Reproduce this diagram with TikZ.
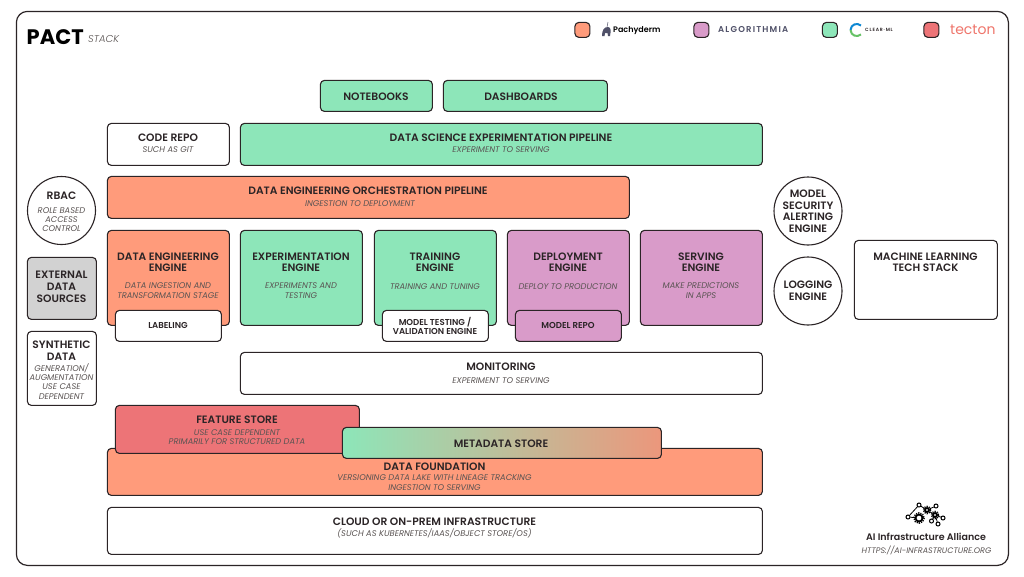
\documentclass[tikz,border=0pt]{standalone}
\usepackage{fontspec}
\setmainfont{Poppins}[BoldFont={Poppins SemiBold},ItalicFont={Poppins Light Italic},BoldItalicFont={Poppins SemiBold Italic}]
\newfontfamily\heavyfont{Poppins Bold}
\newfontfamily\notefont{Poppins Italic}
\usepackage{tikz}
\definecolor{inkdark}{HTML}{2B2426}
\definecolor{notegrey}{HTML}{5A5453}
\definecolor{algogrey}{HTML}{4F5068}
\definecolor{pachyorange}{HTML}{FF9B7B}
\definecolor{algopurple}{HTML}{D99BC9}
\definecolor{clearmint}{HTML}{8DE6B9}
\definecolor{tectonred}{HTML}{ED7477}
\definecolor{sourcegrey}{HTML}{D2D2D2}
\tikzstyle{rect} = [rectangle, draw=inkdark, line width=1.1pt, rounded corners=4pt, anchor=north west, inner sep=0pt, outer sep=0pt, xshift=0.4pt, yshift=-0.4pt]
\tikzstyle{disc} = [circle, draw=inkdark, line width=1.1pt, fill=white, minimum size=68pt, inner sep=0pt]
\tikzstyle{head} = [align=center, inner sep=0pt, text=inkdark, yshift=-0.7pt, font=\fontsize{10.7}{11.8}\selectfont\bfseries]
\tikzstyle{note} = [align=center, inner sep=0pt, text=notegrey, yshift=-0.7pt, font=\fontsize{8.3}{9.3}\notefont]
\tikzstyle{tag} = [align=center, inner sep=0pt, text=inkdark, yshift=-0.3pt, font=\fontsize{8.6}{9.2}\selectfont\bfseries]
\tikzstyle{swatch} = [rect, minimum width=15pt, minimum height=15pt]
\tikzstyle{dot} = [circle, draw=black, line width=1pt, fill=white, minimum size=4pt, inner sep=0pt]
\tikzstyle{cog} = [circle, draw=black, line width=1.8pt, fill=white, inner sep=0pt]
\tikzstyle{teeth} = [black, line width=1.4pt, dash pattern=on 1.2pt off 1.1pt]

\begin{document}
\begin{tikzpicture}[x=1pt,y=-1pt]
            \useasboundingbox (0,0) rectangle (1024,576);
            \fill [white] (0,0) rectangle (1024,576);
            \node (frame) [rect, line width=1.2pt, rounded corners=11pt, minimum width=992pt, minimum height=554pt] at (16,11) {};

            % title and legend
            \node (pact) [anchor=base west, inner sep=0pt, text=black] at (26.5,44) {\fontsize{21}{21}\heavyfont PACT};
            \node (stack) [anchor=base west, inner sep=0pt, text=notegrey] at (88,42) {\fontsize{10}{10}\selectfont\itshape STACK};

            \node (orangeKey) [swatch, fill=pachyorange] at (574.5,22) {};
            \node (purpleKey) [swatch, fill=algopurple] at (693.5,22) {};
            \node (mintKey) [swatch, fill=clearmint] at (822,22) {};
            \node (redKey) [swatch, fill=tectonred] at (923.5,22) {};

            \fill [algogrey] (602,36) .. controls (602,30) and (604,27) .. (608,27) .. controls (611,27) and (611,31) .. (610,36) -- (608,36) -- (607.5,33) -- (605,33) -- (604.5,36) -- cycle;
            \draw [algogrey, line width=0.5pt] (607,27) -- (608,22);
            \node (pachyderm) [inner sep=0pt, anchor=west, text=black] at (613,31) {\fontsize{8}{8}\selectfont\bfseries Pachyderm};
            \node (algorithmia) [inner sep=0pt, anchor=west, text=algogrey] at (718,30) {\fontsize{8.5}{8.5}\selectfont\bfseries\addfontfeature{LetterSpace=14}ALGORITHMIA};
            \draw [cyan!70!blue, line width=2pt] (861,25.5) .. controls (857,22.5) and (851,24) .. (850.5,30);
            \draw [green!60!black!60!white, line width=2pt] (850.5,30) .. controls (851,36) and (857,37.5) .. (861,34.5);
            \node (clearml) [inner sep=0pt, anchor=west, text=inkdark] at (865,30) {\fontsize{4.6}{5}\selectfont\bfseries\addfontfeature{LetterSpace=18}CLEAR·ML};
            \node (tecton) [inner sep=0pt, anchor=west, text=tectonred!90!orange] at (950,29.5) {\fontsize{14}{14}\selectfont tecton};

            % top rows
            \node (notebooks) [rect, fill=clearmint, minimum width=112pt, minimum height=31pt] at (320,80) {};
            \node (notebooksHead) [head] at (376,96) {NOTEBOOKS};
            \node (dashboards) [rect, fill=clearmint, minimum width=164pt, minimum height=31pt] at (443,80) {};
            \node (dashboardsHead) [head] at (521,96) {DASHBOARDS};
            \node (codeRepo) [rect, minimum width=122pt, minimum height=42pt] at (107,123) {};
            \node (codeRepoHead) [head] at (168,137) {CODE REPO};
            \node (codeRepoNote) [note] at (168,149) {SUCH AS GIT};
            \node (dsPipeline) [rect, fill=clearmint, minimum width=522pt, minimum height=42pt] at (240,123) {};
            \node (dsPipelineHead) [head] at (501,137) {DATA SCIENCE EXPERIMENTATION PIPELINE};
            \node (dsPipelineNote) [note] at (501,149) {EXPERIMENT TO SERVING};
            \node (dePipeline) [rect, fill=pachyorange, minimum width=522pt, minimum height=42pt] at (107,176) {};
            \node (dePipelineHead) [head] at (368,190) {DATA ENGINEERING ORCHESTRATION PIPELINE};
            \node (dePipelineNote) [note] at (360,203) {INGESTION TO DEPLOYMENT};

            % engines
            \foreach \name/\x/\tone in {dataEngine/107/pachyorange, expEngine/240/clearmint, trainEngine/374/clearmint, deployEngine/507/algopurple, serveEngine/640/algopurple}
            {
                \node (\name) [rect, fill=\tone, minimum width=122pt, minimum height=95pt] at (\x,230) {};
            }
            \node (dataHead) [head] at (168,261.5) {DATA ENGINEERING\\ENGINE};
            \node (dataNote) [note] at (168,290) {DATA INGESTION AND\\TRANSFORMATION STAGE};
            \node (expHead) [head] at (301,261.5) {EXPERIMENTATION\\ENGINE};
            \node (expNote) [note] at (301,290) {EXPERIMENTS AND\\TESTING};
            \node (trainHead) [head] at (435,261.5) {TRAINING\\ENGINE};
            \node (trainNote) [note] at (435,285.5) {TRAINING AND TUNING};
            \node (deployHead) [head] at (568,261.5) {DEPLOYMENT\\ENGINE};
            \node (deployNote) [note] at (568,285.5) {DEPLOY TO PRODUCTION};
            \node (serveHead) [head] at (701,261.5) {SERVING\\ENGINE};
            \node (serveNote) [note] at (701,290) {MAKE PREDICTIONS\\IN APPS};

            \node (labeling) [rect, fill=white, minimum width=106pt, minimum height=31pt] at (115,310) {};
            \node (labelingTag) [tag] at (168,325.5) {LABELING};
            \node (modelTesting) [rect, fill=white, minimum width=106pt, minimum height=31pt] at (382,310) {};
            \node (modelTestingTag) [tag] at (435,325.5) {MODEL TESTING /\\VALIDATION ENGINE};
            \node (modelRepo) [rect, fill=algopurple, minimum width=106pt, minimum height=31pt] at (515,310) {};
            \node (modelRepoTag) [tag] at (568,325.5) {MODEL REPO};

            \node (monitoring) [rect, minimum width=522pt, minimum height=42pt] at (240,352) {};
            \node (monitoringHead) [head] at (501,366) {MONITORING};
            \node (monitoringNote) [note] at (501,380) {EXPERIMENT TO SERVING};

            % stores and foundation
            \node (foundation) [rect, fill=pachyorange, minimum width=655pt, minimum height=47pt] at (107,448) {};
            \node (foundationHead) [head] at (434.5,466) {DATA FOUNDATION};
            \node (foundationNote) [note] at (434.5,482) {VERSIONING DATA LAKE WITH LINEAGE TRACKING\\INGESTION TO SERVING};
            \node (featureStore) [rect, fill=tectonred, minimum width=244pt, minimum height=48pt] at (115,405) {};
            \node (featureHead) [head] at (237,419) {FEATURE STORE};
            \node (featureNote) [note] at (237,436.5) {USE CASE DEPENDENT\\PRIMARILY FOR STRUCTURED DATA};
            \node (metadata) [rect, left color=clearmint, right color=pachyorange!85!gray, minimum width=319pt, minimum height=31pt] at (342,427) {};
            \node (metadataHead) [head] at (501,443) {METADATA STORE};

            \node (cloud) [rect, minimum width=655pt, minimum height=47pt] at (107,507) {};
            \node (cloudHead) [head] at (434.5,521) {CLOUD OR ON-PREM INFRASTRUCTURE};
            \node (cloudNote) [note] at (434.5,533) {(SUCH AS KUBERNETES/IAAS/OBJECT STORE/OS)};

            % left column
            \node (rbac) [disc] at (61.5,210.5) {};
            \node (rbacHead) [head] at (61.5,195) {RBAC};
            \node (rbacNote) [note] at (61.5,219) {ROLE BASED\\ACCESS\\CONTROL};
            \node (external) [rect, fill=sourcegrey, minimum width=69pt, minimum height=62pt] at (27,257) {};
            \node (externalHead) [head] at (61.5,286) {EXTERNAL\\DATA\\SOURCES};
            \node (synthetic) [rect, minimum width=69pt, minimum height=74pt] at (27,331) {};
            \node (syntheticHead) [head] at (61.5,350) {SYNTHETIC\\DATA};
            \node (syntheticNote) [note] at (61.5,380.5) {GENERATION/\\AUGMENTATION\\USE CASE\\DEPENDENT};

            % right column
            \node (security) [disc] at (808,211) {};
            \node (securityHead) [head] at (808,210.5) {MODEL\\SECURITY\\ALERTING\\ENGINE};
            \node (logging) [disc] at (808,291) {};
            \node (loggingHead) [head] at (808,290) {LOGGING\\ENGINE};
            \node (mlStack) [rect, minimum width=143pt, minimum height=79pt] at (854,240) {};
            \node (mlStackHead) [head] at (925.5,261.5) {MACHINE LEARNING\\TECH STACK};

            % alliance mark
            \foreach \name/\x/\y in {dotA/908/517, dotB/919/505, dotC/936/506, dotD/943/518, dotE/931.5/521, dotF/938/524}
            {
                \node (\name) [dot] at (\x,\y) {};
            }
            \node (cogA) [cog, minimum size=7pt] at (919,518) {};
            \node (cogB) [cog, minimum size=4pt] at (927,510) {};
            \node (cogC) [cog, minimum size=4pt] at (935,515) {};
            \draw [line width=0.8pt] (dotA) -- (dotB) -- (cogB) -- (dotC);
            \draw [line width=0.8pt] (cogA) -- (dotA);
            \draw [line width=0.8pt] (cogB) -- (cogC) -- (dotD);
            \draw [line width=0.8pt] (cogC) -- (dotE);
            \draw [line width=0.8pt] (cogC) -- (dotF);
            \draw [teeth] (cogA) circle (5.2);
            \draw [teeth] (cogB) circle (3.6);
            \draw [teeth] (cogC) circle (3.6);
            \node (alliance) [inner sep=0pt, text=inkdark] at (926,537) {\fontsize{9.5}{10}\selectfont\bfseries AI Infrastructure Alliance};
            \node (allianceUrl) [note, font=\fontsize{8}{9}\notefont] at (926.5,550) {HTTPS://AI-INFRASTRUCTURE.ORG};
        \end{tikzpicture}
\end{document}
